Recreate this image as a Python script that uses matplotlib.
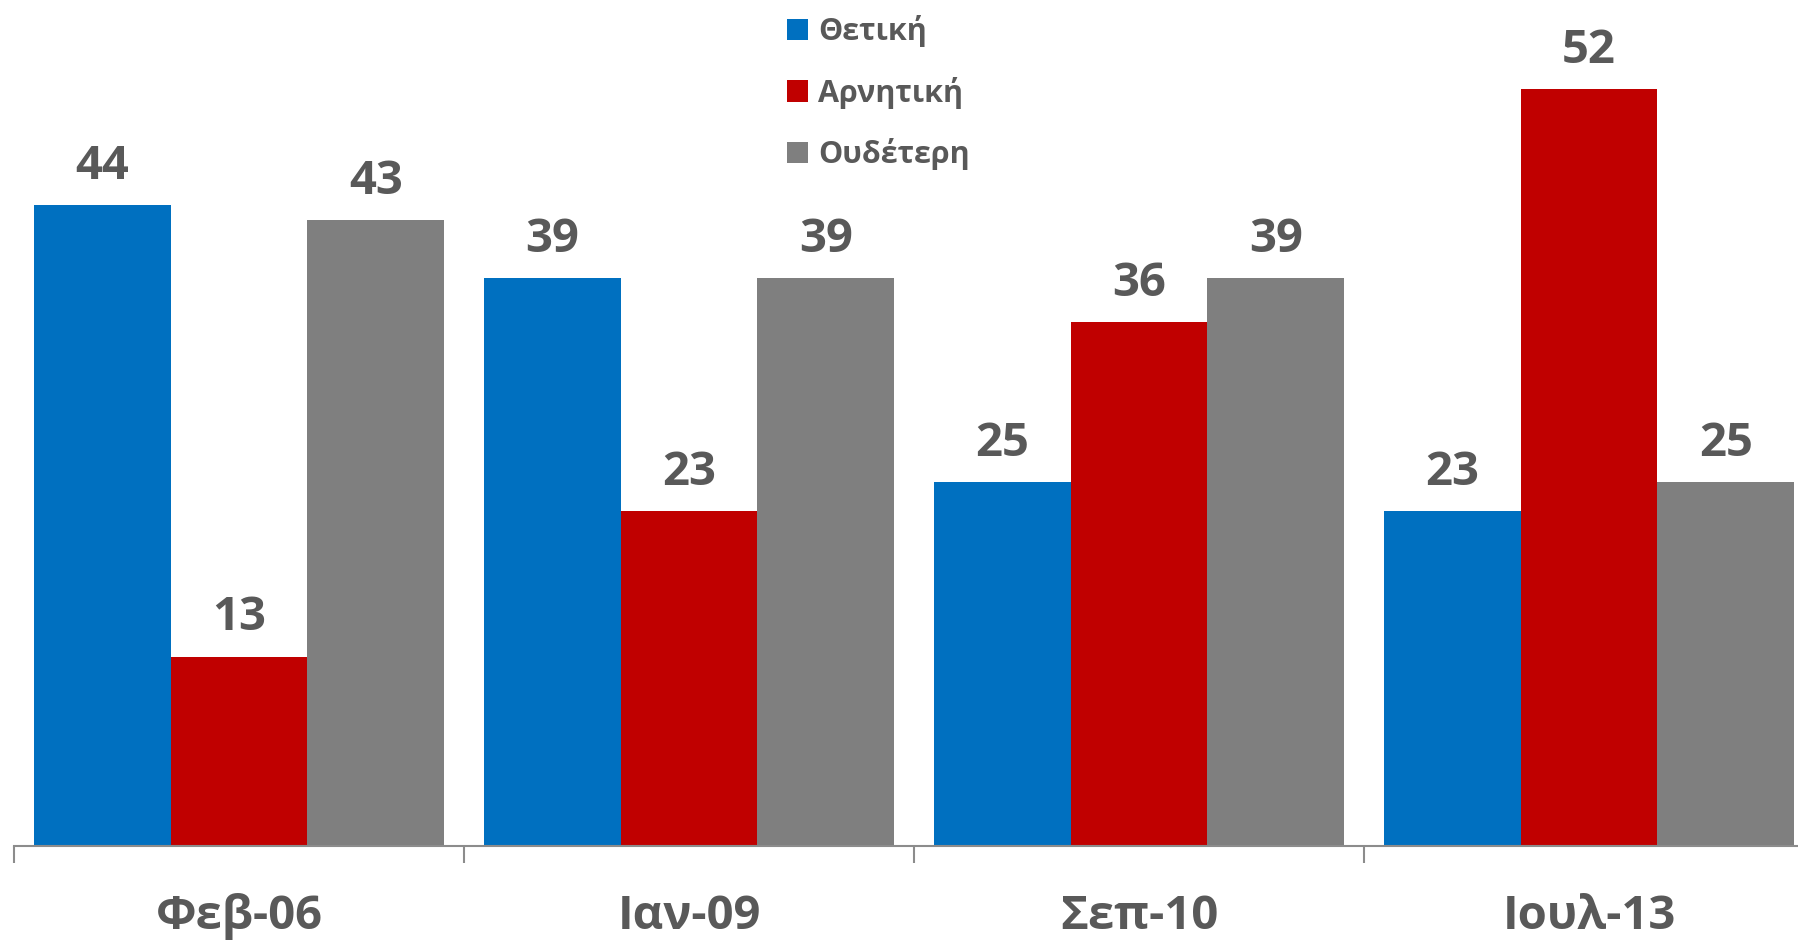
import matplotlib
matplotlib.use("Agg")
import matplotlib.pyplot as plt
import numpy as np

plt.rcParams['font.family'] = ['Open Sans', 'DejaVu Sans']

categories = ['Φεβ-06', 'Ιαν-09', 'Σεπ-10', 'Ιουλ-13']
series_names = ['Θετική', 'Αρνητική', 'Ουδέτερη']
positive = [44, 39, 25, 23]
negative = [13, 23, 36, 52]
neutral = [43, 39, 39, 25]
colors = ['#0070C0', '#C00000', '#7F7F7F']
text_color = '#595959'

fig = plt.figure(figsize=(17.98, 9.4), dpi=100)
ax = fig.add_axes([14 / 1798, 94 / 940, 1800 / 1798, 846 / 940])

x = np.arange(len(categories))
w = 0.3044
for i, (vals, name) in enumerate(zip([positive, negative, neutral], series_names)):
    bars = ax.bar(x + (i - 1) * w, vals, width=w, color=colors[i], label=name)
    ax.bar_label(bars, padding=11, fontsize=34, fontweight='bold', color=text_color)

ax.set_xlim(-0.5, len(categories) - 0.5)
ax.set_ylim(0, 58.1)

for s in ['top', 'left', 'right']:
    ax.spines[s].set_visible(False)
ax.spines['bottom'].set_color('#8C8C8C')
ax.spines['bottom'].set_linewidth(1.5)
ax.set_yticks([])

ax.set_xticks(np.arange(len(categories) + 1) - 0.5)
ax.set_xticklabels([])
ax.tick_params(axis='x', which='major', length=12, width=1.5, color='#8C8C8C')
ax.set_xticks(x, minor=True)
ax.set_xticklabels(categories, minor=True, fontsize=34, fontweight='bold', color=text_color)
ax.tick_params(axis='x', which='minor', length=0, pad=34)

leg = fig.legend(loc='upper left', bbox_to_anchor=(787 / 1798, 1 - 15 / 940), frameon=False,
                 fontsize=22, handlelength=0.69, handleheight=0.69, handletextpad=0.33,
                 labelspacing=0.97, borderaxespad=0, borderpad=0)
for t in leg.get_texts():
    t.set_color(text_color)
    t.set_fontweight('bold')

fig.savefig('out.png', dpi=100)
